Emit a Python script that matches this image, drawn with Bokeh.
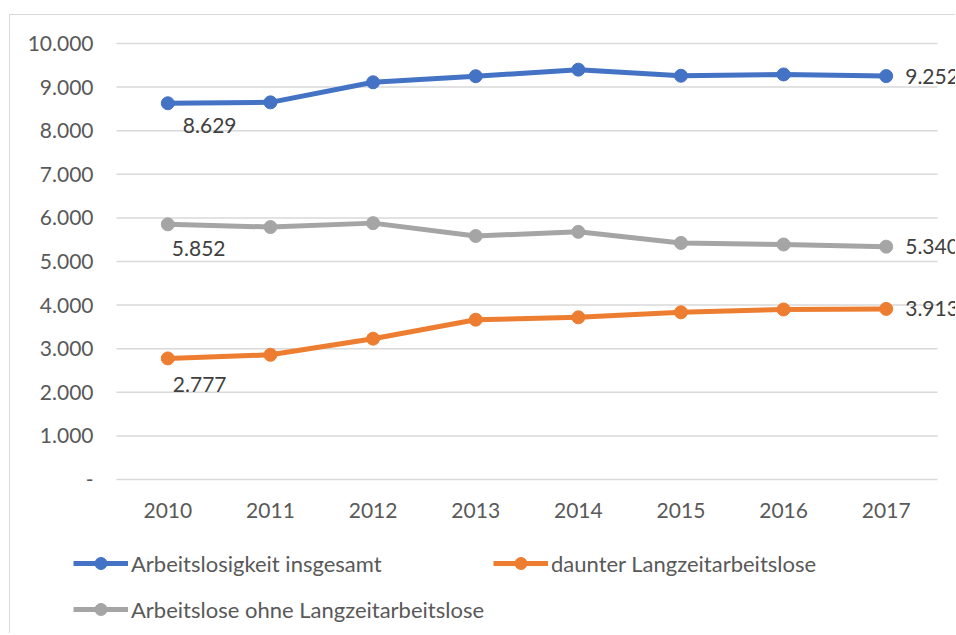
from bokeh.plotting import figure
from bokeh.models import Range1d, Legend, LegendItem
from bokeh.embed import file_html
from bokeh.resources import INLINE
from bokeh.core.properties import value

# ---- data ----
years = ["2010", "2011", "2012", "2013", "2014", "2015", "2016", "2017"]
total = [8629, 8650, 9110, 9250, 9400, 9260, 9290, 9252]
long_term = [2777, 2860, 3230, 3665, 3720, 3835, 3900, 3913]
without_long_term = [5852, 5790, 5880, 5585, 5680, 5425, 5390, 5340]
series_names = ["Arbeitslosigkeit insgesamt", "daunter Langzeitarbeitslose",
                "Arbeitslose ohne Langzeitarbeitslose"]
y_ticks = [0, 1000, 2000, 3000, 4000, 5000, 6000, 7000, 8000, 9000, 10000]
y_tick_labels = ["-", "1.000", "2.000", "3.000", "4.000", "5.000", "6.000",
                 "7.000", "8.000", "9.000", "10.000"]

def fmt(v):
    return f"{v:,}".replace(",", ".")

FONT = "Lato"
FS = "21px"
LEG_FS = "22px"
AX_COL = "#595959"
LBL_COL = "#404040"
colors = ["#4472C4", "#ED7D31", "#A5A5A5"]

x = [i + 0.5 for i in range(len(years))]
n_cat = len(years)

# the frame covers the whole canvas so that the legend below the plot area is not clipped
p = figure(width=946, height=619, output_backend="svg", toolbar_location=None,
           x_range=Range1d(-1.033, 8.185), y_range=Range1d(-3555, 10642),
           x_axis_location=None, y_axis_location=None,
           min_border_left=0, min_border_right=0, min_border_top=0,
           min_border_bottom=0, outline_line_color=None,
           margin=(14, 0, 0, 9),
           styles={"border-left": "1px solid #D9D9D9", "border-top": "1px solid #D9D9D9"})
p.grid.visible = False

# horizontal gridlines limited to the category area
p.segment(x0=[0] * len(y_ticks), x1=[n_cat] * len(y_ticks), y0=y_ticks, y1=y_ticks,
          line_color="#D9D9D9", line_width=1.5)

# value axis labels
p.text(x=[0] * len(y_ticks), y=y_ticks, text=y_tick_labels, x_offset=-23,
       text_font=value(FONT), text_font_size=FS, text_color=AX_COL,
       text_align="right", text_baseline="middle")
# category axis labels
p.text(x=x, y=[0] * n_cat, text=years, y_offset=31,
       text_font=value(FONT), text_font_size=FS, text_color=AX_COL,
       text_align="center", text_baseline="middle")

items = []
all_series = [total, long_term, without_long_term]
first_offsets = [(15, 22), (5, 26), (4, 24)]
for vals, col, name, (dx, dy) in zip(all_series, colors, series_names, first_offsets):
    r1 = p.line(x, vals, line_color=col, line_width=5)
    r2 = p.scatter(x, vals, size=13, fill_color=col, line_color=col)
    items.append(LegendItem(label=name, renderers=[r1, r2]))
    p.text(x=[x[0]], y=[vals[0]], text=[fmt(vals[0])], x_offset=dx, y_offset=dy,
           text_font=value(FONT), text_font_size=FS, text_color=LBL_COL,
           text_align="left", text_baseline="middle")
    p.text(x=[x[-1]], y=[vals[-1]], text=[fmt(vals[-1])], x_offset=19, y_offset=0,
           text_font=value(FONT), text_font_size=FS, text_color=LBL_COL,
           text_align="left", text_baseline="middle")

legend_style = dict(padding=0, margin=0, border_line_color=None,
                    background_fill_alpha=0, glyph_width=55, glyph_height=30,
                    label_height=30, label_standoff=3,
                    label_text_font=FONT, label_text_font_size=LEG_FS,
                    label_text_color=AX_COL)
legend1 = Legend(items=items[:2], orientation="horizontal", location=(63, 56),
                 label_width=362, spacing=0, **legend_style)
legend2 = Legend(items=items[2:], orientation="horizontal", location=(63, 10),
                 **legend_style)
p.add_layout(legend1, "center")
p.add_layout(legend2, "center")

open("out.html", "w").write(file_html(p, INLINE))
